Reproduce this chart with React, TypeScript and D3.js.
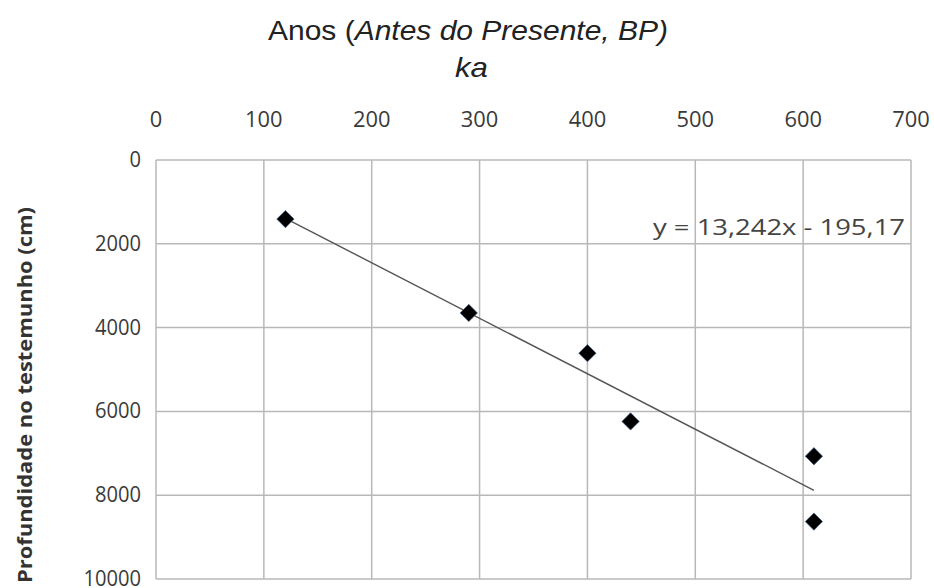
import * as d3 from "d3";

const ages = [120, 290, 400, 440, 610, 610];
const depths = [1410, 3650, 4610, 6240, 7070, 8630];
const xTicks = [0, 100, 200, 300, 400, 500, 600, 700];
const yTicks = [0, 2000, 4000, 6000, 8000, 10000];
const slope = 13.242;
const intercept = -195.17;
const equationLabel = "y = 13,242x - 195,17";

export default function App() {
  const width = 934;
  const height = 588;
  const left = 156;
  const right = 911;
  const top = 160;
  const bottom = 579;

  const x = d3.scaleLinear().domain([0, 700]).range([left, right]);
  const y = d3.scaleLinear().domain([0, 10000]).range([top, bottom]);

  const xMin = d3.min(ages) ?? 0;
  const xMax = d3.max(ages) ?? 0;
  const trend = d3
    .line<number>()
    .x((d) => x(d))
    .y((d) => y(slope * d + intercept))([xMin, xMax]) ?? "";

  // square turned on its corner, like Excel's diamond marker
  const diamond = d3.symbol().type(d3.symbolSquare).size(150)() ?? "";
  const tickFont = "'Open Sans', sans-serif";

  return (
    <svg
      width={width}
      height={height}
      style={{ position: "absolute", left: 0, top: 0, background: "#fff" }}
    >
      {xTicks.map((t) => (
        <line key={`vx${t}`} x1={x(t)} x2={x(t)} y1={top} y2={bottom} stroke="#b8b8b8" strokeWidth={1.5} />
      ))}
      {yTicks.map((t) => (
        <line key={`hy${t}`} x1={left} x2={right} y1={y(t)} y2={y(t)} stroke="#b8b8b8" strokeWidth={1.5} />
      ))}

      {xTicks.map((t) => (
        <text
          key={`xl${t}`}
          x={x(t)}
          y={127}
          textAnchor="middle"
          fontFamily={tickFont}
          fontSize={22}
          textLength={String(t).length * 12.5}
          lengthAdjust="spacingAndGlyphs"
          fill="#3a3a3a"
        >
          {t}
        </text>
      ))}
      {yTicks.map((t) => (
        <text
          key={`yl${t}`}
          x={141}
          y={y(t) + 7}
          textAnchor="end"
          fontFamily={tickFont}
          fontSize={22}
          textLength={String(t).length * 11.5}
          lengthAdjust="spacingAndGlyphs"
          fill="#3a3a3a"
        >
          {t}
        </text>
      ))}

      <path d={trend} stroke="#555" strokeWidth={1.4} fill="none" />

      {ages.map((a, i) => (
        <path
          key={`p${i}`}
          d={diamond}
          transform={`translate(${x(a)},${y(depths[i])}) rotate(45)`}
          fill="#000"
          stroke="#3a5a8a"
          strokeWidth={0.6}
        />
      ))}

      <text
        x={653}
        y={235}
        fontFamily="'Open Sans', sans-serif"
        fontSize={21}
        textLength={252}
        lengthAdjust="spacingAndGlyphs"
        fill="#444"
      >
        {equationLabel}
      </text>

      <text
        x={268}
        y={40}
        fontFamily="'Liberation Sans', sans-serif"
        fontSize={28}
        textLength={400}
        lengthAdjust="spacingAndGlyphs"
        fill="#222"
      >
        Anos (<tspan fontStyle="italic">Antes do Presente, BP)</tspan>
      </text>
      <text
        x={455}
        y={77}
        fontFamily="'Liberation Sans', sans-serif"
        fontSize={28}
        textLength={33}
        lengthAdjust="spacingAndGlyphs"
        fontStyle="italic"
        fill="#222"
      >
        ka
      </text>

      <text
        transform="translate(32,583) rotate(-90)"
        fontFamily="'Open Sans', sans-serif"
        fontWeight="bold"
        fontSize={19}
        textLength={376}
        lengthAdjust="spacingAndGlyphs"
        fill="#333"
      >
        Profundidade no testemunho  (cm)
      </text>
    </svg>
  );
}
